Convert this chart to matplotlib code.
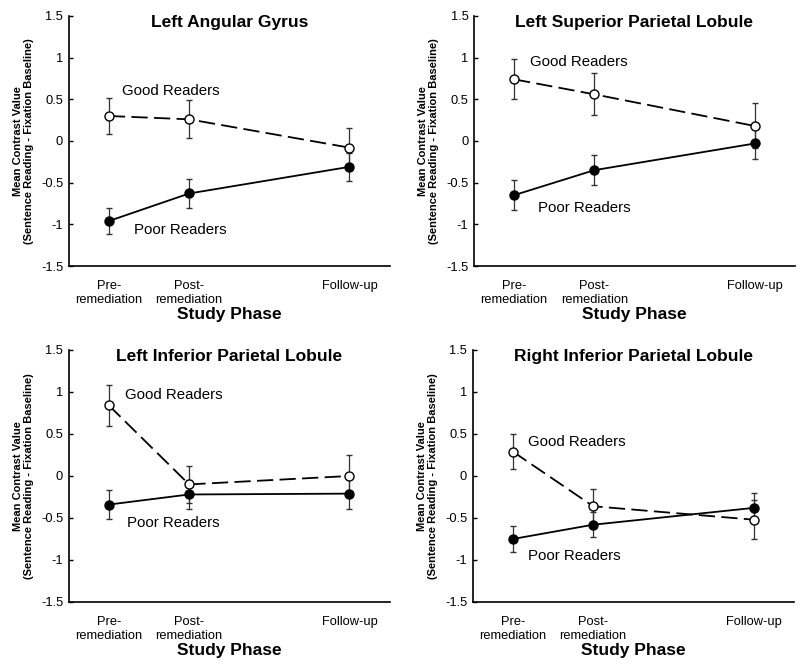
import matplotlib
matplotlib.use("Agg")
import matplotlib.pyplot as plt

plt.rcParams['font.family'] = ['Liberation Sans', 'DejaVu Sans']

phases = ["Pre-\nremediation", "Post-\nremediation", "Follow-up"]
phase_x = [1, 2, 4]

titles = ["Left Angular Gyrus", "Left Superior Parietal Lobule",
          "Left Inferior Parietal Lobule", "Right Inferior Parietal Lobule"]

# good readers: mean and error per phase
good_lag = [0.30, 0.26, -0.08]
good_lag_err = [0.22, 0.23, 0.24]
good_lspl = [0.74, 0.56, 0.18]
good_lspl_err = [0.24, 0.25, 0.27]
good_lipl = [0.84, -0.10, 0.00]
good_lipl_err = [0.24, 0.22, 0.25]
good_ripl = [0.29, -0.36, -0.52]
good_ripl_err = [0.21, 0.21, 0.23]

# poor readers
poor_lag = [-0.96, -0.63, -0.31]
poor_lag_err = [0.16, 0.17, 0.17]
poor_lspl = [-0.65, -0.35, -0.03]
poor_lspl_err = [0.18, 0.18, 0.19]
poor_lipl = [-0.34, -0.22, -0.21]
poor_lipl_err = [0.17, 0.17, 0.18]
poor_ripl = [-0.75, -0.58, -0.38]
poor_ripl_err = [0.15, 0.15, 0.18]

good = [good_lag, good_lspl, good_lipl, good_ripl]
good_err = [good_lag_err, good_lspl_err, good_lipl_err, good_ripl_err]
poor = [poor_lag, poor_lspl, poor_lipl, poor_ripl]
poor_err = [poor_lag_err, poor_lspl_err, poor_lipl_err, poor_ripl_err]

# label anchors (x, y) in data units
good_label = [(1.16, 0.60), (1.20, 0.95), (1.20, 0.96), (1.19, 0.41)]
poor_label = [(1.31, -1.07), (1.30, -0.81), (1.22, -0.56), (1.19, -0.95)]

fig = plt.figure(figsize=(8, 6.66), dpi=100)
boxes = [[0.086, 0.6006, 0.401, 0.3754],
         [0.5925, 0.6006, 0.401, 0.3754],
         [0.086, 0.0961, 0.401, 0.3784],
         [0.591, 0.0961, 0.401, 0.3784]]

for i in range(4):
  ax = fig.add_axes(boxes[i])
  ax.errorbar(phase_x, good[i], yerr=good_err[i], color='black', lw=1.3,
              ls=(0, (9, 3.5)), marker='o', ms=6.5, mfc='white', mec='black',
              mew=1, ecolor='#333333', elinewidth=0.9, capsize=2.5, capthick=0.9, zorder=3)
  ax.errorbar(phase_x, poor[i], yerr=poor_err[i], color='black', lw=1.3,
              ls='-', marker='o', ms=6.5, mfc='black', mec='black',
              mew=1, ecolor='#333333', elinewidth=0.9, capsize=2.5, capthick=0.9, zorder=3)
  ax.text(good_label[i][0], good_label[i][1], "Good Readers", fontsize=10.8, va='center')
  ax.text(poor_label[i][0], poor_label[i][1], "Poor Readers", fontsize=10.8, va='center')
  ax.text(0.5, 0.975, titles[i], transform=ax.transAxes, ha='center', va='center',
          fontsize=12.5, fontweight='bold')
  ax.set_xlim(0.5, 4.5)
  ax.set_ylim(-1.5, 1.5)
  ax.set_yticks([-1.5, -1, -0.5, 0, 0.5, 1, 1.5])
  ax.set_yticklabels(["-1.5", "-1", "-0.5", "0", "0.5", "1", "1.5"])
  ax.set_xticks(phase_x)
  ax.set_xticklabels(phases, fontsize=9.3, linespacing=1.2)
  ax.tick_params(axis='y', direction='in', length=3, width=1, labelsize=9.3, pad=4)
  ax.tick_params(axis='x', length=0, pad=10)
  ax.spines['top'].set_visible(False)
  ax.spines['right'].set_visible(False)
  ax.spines['left'].set_linewidth(1.2)
  ax.spines['bottom'].set_linewidth(1.2)
  ax.set_xlabel("Study Phase", fontsize=12.5, fontweight='bold', labelpad=1)
  ax.set_ylabel("Mean Contrast Value\n(Sentence Reading - Fixation Baseline)",
                fontsize=8, fontweight='bold', labelpad=5, linespacing=1.15)

fig.savefig("out.png", dpi=100)
